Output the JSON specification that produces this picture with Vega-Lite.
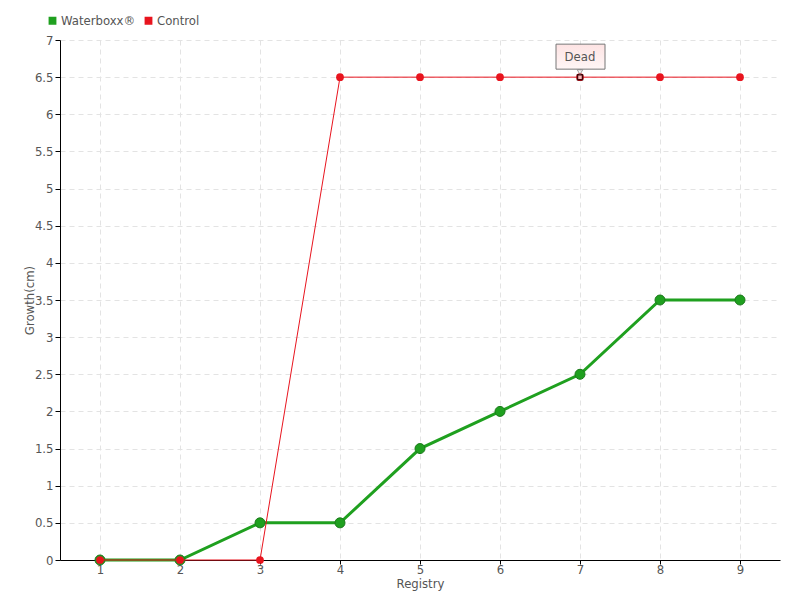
{
  "$schema": "https://vega.github.io/schema/vega-lite/v6.json",
  "width": 720,
  "height": 520,
  "autosize": "none",
  "padding": {"left": 60, "top": 40, "right": 20, "bottom": 40},
  "background": "white",
  "config": {
    "font": "'DejaVu Sans Condensed', 'Open Sans', sans-serif",
    "view": {"stroke": null},
    "axis": {"labelFont": "'DejaVu Sans Condensed', 'Open Sans', sans-serif", "titleFont": "'DejaVu Sans Condensed', 'Open Sans', sans-serif", "labelColor": "#555", "titleColor": "#555", "labelFontSize": 13, "titleFontSize": 13, "titleFontWeight": "normal", "domainColor": "#000", "tickColor": "#000", "gridColor": "#e3e3e3", "gridDash": [5, 4], "labelOverlap": false, "labelFlush": false}
  },
  "datasets": {
    "series": [
      {"registry": 1, "growth": 0, "series": "Waterboxx®"},
      {"registry": 2, "growth": 0, "series": "Waterboxx®"},
      {"registry": 3, "growth": 0.5, "series": "Waterboxx®"},
      {"registry": 4, "growth": 0.5, "series": "Waterboxx®"},
      {"registry": 5, "growth": 1.5, "series": "Waterboxx®"},
      {"registry": 6, "growth": 2, "series": "Waterboxx®"},
      {"registry": 7, "growth": 2.5, "series": "Waterboxx®"},
      {"registry": 8, "growth": 3.5, "series": "Waterboxx®"},
      {"registry": 9, "growth": 3.5, "series": "Waterboxx®"},
      {"registry": 1, "growth": 0, "series": "Control"},
      {"registry": 2, "growth": 0, "series": "Control"},
      {"registry": 3, "growth": 0, "series": "Control"},
      {"registry": 4, "growth": 6.5, "series": "Control"},
      {"registry": 5, "growth": 6.5, "series": "Control"},
      {"registry": 6, "growth": 6.5, "series": "Control"},
      {"registry": 7, "growth": 6.5, "series": "Control"},
      {"registry": 8, "growth": 6.5, "series": "Control"},
      {"registry": 9, "growth": 6.5, "series": "Control"}
    ],
    "notes": [
      {"registry": 7, "growth": 6.5, "note": "Dead"}
    ]
  },
  "layer": [
    {
      "data": {"name": "series"},
      "transform": [{"filter": "datum.series === 'Waterboxx®'"}],
      "mark": {"type": "line", "strokeWidth": 3, "point": {"filled": true, "size": 100, "stroke": "#1b7a1b", "strokeWidth": 1}},
      "encoding": {
        "x": {"field": "registry", "type": "quantitative", "scale": {"domain": [0.5, 9.5], "nice": false, "zero": false},
              "axis": {"values": [1, 2, 3, 4, 5, 6, 7, 8, 9], "tickCount": 20, "format": "~g", "title": "Registry", "titlePadding": 1, "labelPadding": -1, "tickSize": 4, "grid": true}},
        "y": {"field": "growth", "type": "quantitative", "scale": {"domain": [0, 7], "nice": false},
              "axis": {"values": [0, 0.5, 1, 1.5, 2, 2.5, 3, 3.5, 4, 4.5, 5, 5.5, 6, 6.5, 7], "tickCount": 30, "format": "~g", "title": "Growth(cm)", "titlePadding": -2, "tickSize": 5, "labelPadding": 2, "grid": true}},
        "color": {"field": "series", "type": "nominal", "scale": {"domain": ["Waterboxx®", "Control"], "range": ["#1fa01f", "#e8141e"]},
                  "legend": {"title": null, "orient": "none", "legendX": -14, "legendY": -26, "direction": "horizontal", "symbolType": "square", "symbolSize": 40, "labelFontSize": 13, "labelFont": "'DejaVu Sans Condensed', 'Open Sans', sans-serif", "labelColor": "#555", "columnPadding": 6, "symbolOffset": 0, "labelOffset": 2}}
      }
    },
    {
      "data": {"name": "series"},
      "transform": [{"filter": "datum.series === 'Control'"}],
      "mark": {"type": "line", "strokeWidth": 1, "point": {"filled": true, "size": 60}},
      "encoding": {
        "x": {"field": "registry", "type": "quantitative"},
        "y": {"field": "growth", "type": "quantitative"},
        "color": {"field": "series", "type": "nominal"}
      }
    },
    {
      "data": {"name": "notes"},
      "mark": {"type": "point", "shape": "square", "filled": true, "fill": "white", "stroke": "#000", "strokeWidth": 1.5, "size": 25},
      "encoding": {
        "x": {"field": "registry", "type": "quantitative"},
        "y": {"field": "growth", "type": "quantitative"}
      }
    },
    {
      "data": {"name": "notes"},
      "mark": {"type": "rect", "xOffset": -24, "x2Offset": 25, "yOffset": -8, "y2Offset": -33, "stroke": "#777", "strokeWidth": 1,
               "fill": {"gradient": "linear", "x1": 0, "y1": 0, "x2": 0, "y2": 1, "stops": [{"offset": 0, "color": "#fde3e3"}, {"offset": 1, "color": "#fff6f6"}]}},
      "encoding": {
        "x": {"field": "registry", "type": "quantitative"},
        "x2": {"field": "registry"},
        "y": {"field": "growth", "type": "quantitative"},
        "y2": {"field": "growth"}
      }
    },
    {
      "data": {"name": "notes"},
      "mark": {"type": "point", "shape": "triangle-down", "filled": true, "fill": "#fff6f6", "stroke": "#777", "strokeWidth": 1, "size": 30, "yOffset": -5},
      "encoding": {
        "x": {"field": "registry", "type": "quantitative"},
        "y": {"field": "growth", "type": "quantitative"}
      }
    },
    {
      "data": {"name": "notes"},
      "mark": {"type": "text", "font": "'DejaVu Sans Condensed', 'Open Sans', sans-serif", "fontSize": 13, "color": "#555", "dy": -20, "align": "center", "baseline": "middle"},
      "encoding": {
        "x": {"field": "registry", "type": "quantitative"},
        "y": {"field": "growth", "type": "quantitative"},
        "text": {"field": "note"}
      }
    }
  ]
}
